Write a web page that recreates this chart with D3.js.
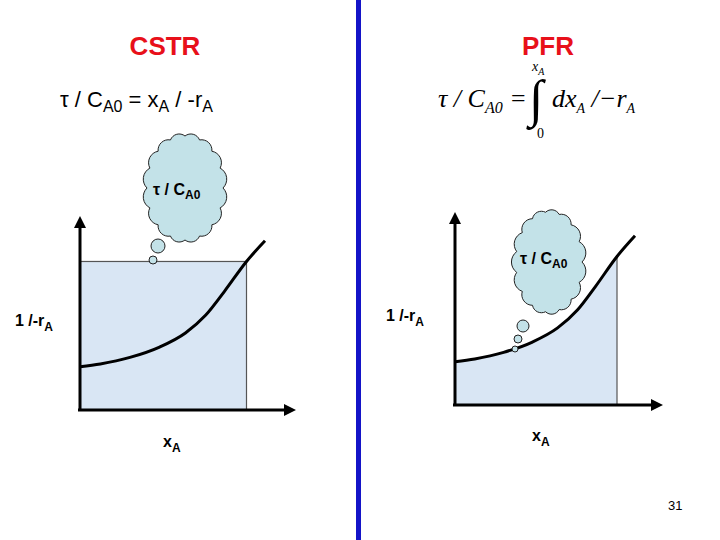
<!DOCTYPE html><html><head><meta charset="utf-8"><script src="https://cdn.jsdelivr.net/npm/d3@7"></script>
<style>body{margin:0;background:#fff}</style></head><body><svg id="s" width="720" height="540"></svg>
<script>
const xA=[0,0.11,0.27,0.43,0.57,0.68,0.78,0.9,1.0];
const invRA=[0.23,0.245,0.28,0.335,0.41,0.505,0.63,0.79,0.9];
const titles=["CSTR","PFR"];
const svg=d3.select("#s");
const F="Arial, 'Liberation Sans', sans-serif";
svg.append("defs").html(`<marker id="ar" viewBox="0 0 10 10" refX="5" refY="5" markerWidth="4" markerHeight="4" orient="auto"><path d="M0,0L10,5L0,10z" fill="#000"/></marker>`);
svg.append("rect").attr("x",356).attr("y",0).attr("width",5).attr("height",540).attr("fill","#1414c8");
const pts=xA.map((x,i)=>[x,invRA[i]]);
function panel(x0,x1,y0,y1,axTop,axRight,fillTo,cstr){
  const x=d3.scaleLinear().domain([0,1]).range([x0,x1]);
  const y=d3.scaleLinear().domain([0,1]).range([y0,y1]);
  const g=svg.append("g");
  if(cstr){
    g.append("rect").attr("x",x(0)).attr("y",y(0.79)).attr("width",x(0.9)-x(0)).attr("height",y(0)-y(0.79)).attr("fill","#d9e6f4").attr("stroke","#555").attr("stroke-width",1.2);
  } else {
    const sub=pts.filter(p=>p[0]<=fillTo);
    g.append("path").attr("d",d3.area().x(d=>x(d[0])).y0(y(0)).y1(d=>y(d[1])).curve(d3.curveMonotoneX)(sub)).attr("fill","#d9e6f4");
    g.append("line").attr("x1",x(fillTo)).attr("x2",x(fillTo)).attr("y1",y(0.79)).attr("y2",y(0)).attr("stroke","#555").attr("stroke-width",1.2);
  }
  g.append("path").attr("d",d3.line().x(d=>x(d[0])).y(d=>y(d[1])).curve(d3.curveMonotoneX)(pts)).attr("fill","none").attr("stroke","#000").attr("stroke-width",3);
  g.append("line").attr("x1",x(0)).attr("y1",y(0)).attr("x2",x(0)).attr("y2",axTop).attr("stroke","#000").attr("stroke-width",3).attr("marker-end","url(#ar)");
  g.append("line").attr("x1",x(0)-2).attr("y1",y(0)).attr("x2",axRight).attr("y2",y(0)).attr("stroke","#000").attr("stroke-width",3).attr("marker-end","url(#ar)");
}
panel(80,265,410,222,222,290,0.9,true);
panel(455,635,405,217,218,657,0.9,false);
function cloud(cx,cy,rx,ry,n){
  const P=[];
  for(let i=0;i<n;i++){const a=i/n*2*Math.PI;P.push([cx+rx*Math.cos(a),cy+ry*Math.sin(a)]);}
  let d="M"+P[0];
  for(let i=1;i<=n;i++){const p=P[i%n],q=P[i-1];const r=Math.hypot(p[0]-q[0],p[1]-q[1])*0.62;d+=`A${r},${r} 0 0 1 ${p[0]},${p[1]}`;}
  svg.append("path").attr("d",d+"Z").attr("fill","#c3e2e8").attr("stroke","#222").attr("stroke-width",1);
}
function bub(cx,cy,r){svg.append("circle").attr("cx",cx).attr("cy",cy).attr("r",r).attr("fill","#c3e2e8").attr("stroke","#222").attr("stroke-width",1);}
cloud(185,188,38,52,16);bub(158,246,7);bub(153,260,4);
cloud(549,262,33,50,15);bub(523,326,6);bub(518,339,4);bub(515,349,3);
svg.append("text").attr("x",165).attr("y",55).attr("text-anchor","middle").attr("font-family",F).attr("font-weight","bold").attr("font-size",26).attr("fill","#e8101a").text(titles[0]);
svg.append("text").attr("x",548).attr("y",55).attr("text-anchor","middle").attr("font-family",F).attr("font-weight","bold").attr("font-size",26).attr("fill","#e8101a").text(titles[1]);
const f=svg.append("text").attr("x",60).attr("y",107).attr("font-family",F).attr("font-size",22);
[["τ / C",0],["A0",5],[" = x",-5],["A",5],[" / -r",-5],["A",5]].forEach(p=>f.append("tspan").attr("dy",p[1]).attr("font-size",p[1]>0?16:22).text(p[0]));
const S="'Liberation Serif', 'Times New Roman', serif";
const r=svg.append("text").attr("x",438).attr("y",107).attr("font-family",S).attr("font-style","italic").attr("font-size",26);
[["τ / C",0],["A0",6],[" = ",-6]].forEach(p=>r.append("tspan").attr("dy",p[1]).attr("font-size",p[1]>0?16:26).text(p[0]));
svg.append("text").attr("x",529).attr("y",116).attr("font-family",S).attr("font-size",52).text("∫");
const r2=svg.append("text").attr("x",552).attr("y",107).attr("font-family",S).attr("font-style","italic").attr("font-size",26);
[["dx",0],["A",6],[" /−r",-6],["A",6]].forEach(p=>r2.append("tspan").attr("dy",p[1]).attr("font-size",p[1]>0?14:26).text(p[0]));
const up=svg.append("text").attr("x",532).attr("y",71).attr("font-family",S).attr("font-style","italic").attr("font-size",14);
up.append("tspan").text("x");up.append("tspan").attr("dy",4).attr("font-size",10).text("A");
svg.append("text").attr("x",537).attr("y",138).attr("font-family",S).attr("font-size",14).text("0");
function tc(x,y){const t=svg.append("text").attr("x",x).attr("y",y).attr("font-family",F).attr("font-weight","bold").attr("font-size",16);
 t.append("tspan").text("τ / C");t.append("tspan").attr("dy",4).attr("font-size",12).text("A0");}
tc(153,195);tc(520,264);
function lab(x,y,a,b){const t=svg.append("text").attr("x",x).attr("y",y).attr("font-family",F).attr("font-weight","bold").attr("font-size",16);
 t.append("tspan").text(a);t.append("tspan").attr("dy",5).attr("font-size",12).text(b);}
lab(15,326,"1 /-r","A");lab(386,321,"1 /-r","A");lab(163,447,"x","A");lab(532,441,"x","A");
svg.append("text").attr("x",668).attr("y",510).attr("font-family",F).attr("font-size",13).text("31");
</script></body></html>
